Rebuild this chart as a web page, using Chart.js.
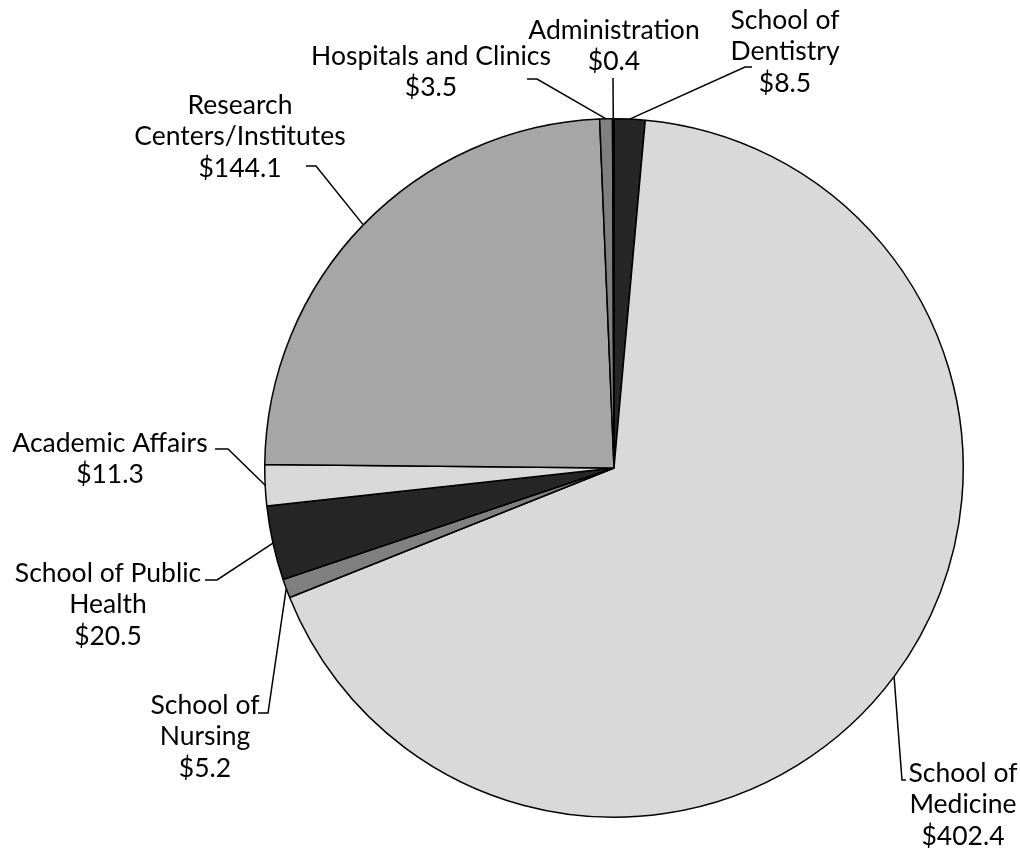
<!DOCTYPE html>
<html>
<head>
<meta charset="utf-8">
<script src="https://cdn.jsdelivr.net/npm/chart.js@4"></script>
<style>
  body { margin: 0; background: #fff; }
  #wrap { width: 1020px; height: 850px; }
</style>
</head>
<body>
<div id="wrap"><canvas id="myChart" width="1020" height="850"></canvas></div>
<script>
// data, clockwise from 12 o'clock
let units = ["School of Dentistry", "School of Medicine", "School of Nursing", "School of Public Health",
  "Academic Affairs", "Research Centers/Institutes", "Hospitals and Clinics", "Administration"]
let amounts = [8.5, 402.4, 5.2, 20.5, 11.3, 144.1, 3.5, 0.4]
let labelLines = [
  ["School of", "Dentistry"],
  ["School of", "Medicine"],
  ["School of", "Nursing"],
  ["School of Public", "Health"],
  ["Academic Affairs"],
  ["Research", "Centers/Institutes"],
  ["Hospitals and Clinics"],
  ["Administration"]
]
let sliceColors = ["#262626", "#d9d9d9", "#808080", "#262626", "#d9d9d9", "#a6a6a6", "#808080", "#262626"]

// where each label sits and how its leader line bends (layout only)
let labelLayout = [
  { x: 785, y: 20, bend: [745, 67], end: [752, 67] },
  { x: 963, y: 773, bend: [902, 780], end: [906, 780] },
  { x: 205, y: 705, bend: [268, 713], end: [258, 713] },
  { x: 108, y: 573, bend: [217, 580], end: [205, 580] },
  { x: 110, y: 443, bend: [228, 449], end: [215, 449] },
  { x: 240, y: 105, bend: [316, 166], end: [306, 166] },
  { x: 431, y: 56, bend: [537, 79], end: [527, 79] },
  { x: 614, y: 30, bend: [613, 78], end: [613, 78] }
]
let lineGap = 31.5

let outsideLabels = {
  id: 'outsideLabels',
  afterDatasetsDraw(chart) {
    let c = chart.ctx
    let arcs = chart.getDatasetMeta(0).data
    c.save()
    c.strokeStyle = '#000'
    c.lineWidth = 1.5
    c.fillStyle = '#000'
    c.font = '26.5px Lato'
    c.textAlign = 'center'
    c.textBaseline = 'middle'
    arcs.forEach((arc, i) => {
      let p = arc.getProps(['x', 'y', 'startAngle', 'endAngle', 'outerRadius'], true)
      let mid = (p.startAngle + p.endAngle) / 2
      let ax = p.x + Math.cos(mid) * p.outerRadius
      let ay = p.y + Math.sin(mid) * p.outerRadius
      let lay = labelLayout[i]
      c.beginPath()
      c.moveTo(ax, ay)
      c.lineTo(lay.bend[0], lay.bend[1])
      c.lineTo(lay.end[0], lay.end[1])
      c.stroke()
      let lines = labelLines[i].concat(['$' + amounts[i].toFixed(1)])
      lines.forEach((t, k) => c.fillText(t, lay.x, lay.y + k * lineGap))
    })
    c.restore()
  }
}

let ctx = document.querySelector("#myChart")
let myChart = new Chart(ctx, {
  type: 'pie',
  data: {
    labels: units,
    datasets: [{
      data: amounts,
      backgroundColor: sliceColors,
      borderColor: '#000',
      borderWidth: 1.5
    }]
  },
  options: {
    responsive: false,
    animation: false,
    layout: { padding: { top: 118, bottom: 32, left: 264, right: 56 } },
    plugins: { legend: { display: false }, tooltip: { enabled: false } }
  },
  plugins: [outsideLabels]
})
</script>
</body>
</html>
